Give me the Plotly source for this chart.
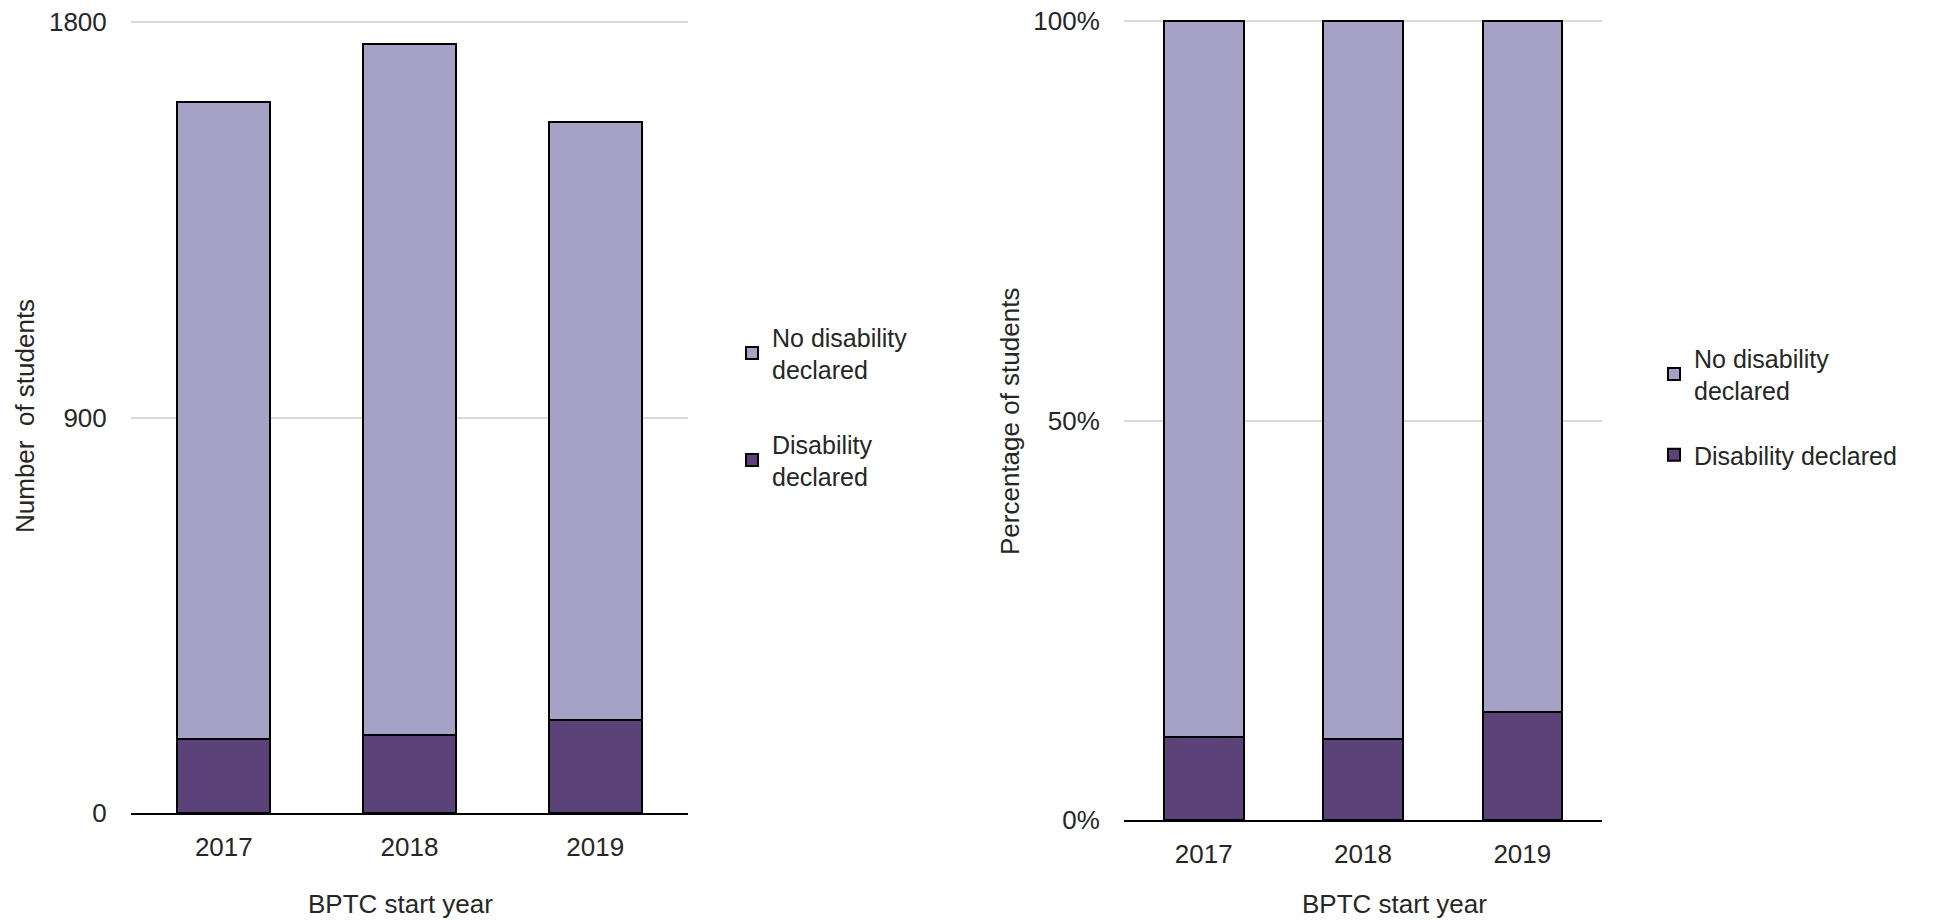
import plotly.graph_objects as go

years = ["2017", "2018", "2019"]
disability_count = [168, 177, 212]
no_disability_count = [1449, 1572, 1361]
disability_pct = [10.4, 10.1, 13.5]
no_disability_pct = [89.6, 89.9, 86.5]
count_ticks = [0, 900, 1800]
pct_ticks = [0, 50, 100]
pct_ticktext = ["0%", "50%", "100%"]

LIGHT = "#A6A2C6"
DARK = "#5B4379"
FONT = "Liberation Sans, Arial, sans-serif"
TXT = "#262626"
W, H = 1939, 920

fig = go.Figure()

# Left: counts
fig.add_trace(go.Bar(x=years, y=disability_count, name="Disability<br>declared",
                     marker=dict(color=DARK, line=dict(color="black", width=2)),
                     xaxis="x", yaxis="y", legend="legend", legendgroup="a", legendrank=2))
fig.add_trace(go.Bar(x=years, y=no_disability_count, name="No disability<br>declared",
                     marker=dict(color=LIGHT, line=dict(color="black", width=2)),
                     xaxis="x", yaxis="y", legend="legend", legendgroup="b", legendrank=1))
# Right: percentages
fig.add_trace(go.Bar(x=years, y=disability_pct, name="Disability declared",
                     marker=dict(color=DARK, line=dict(color="black", width=2)),
                     xaxis="x2", yaxis="y2", legend="legend2", legendgroup="c", legendrank=2))
fig.add_trace(go.Bar(x=years, y=no_disability_pct, name="No disability<br>declared",
                     marker=dict(color=LIGHT, line=dict(color="black", width=2)),
                     xaxis="x2", yaxis="y2", legend="legend2", legendgroup="d", legendrank=1))

axis_font = dict(family=FONT, size=26, color=TXT)

xcommon = dict(type="category", showline=True, linecolor="black", linewidth=2,
               showgrid=False, ticks="outside", ticklen=10, tickcolor="rgba(0,0,0,0)",
               tickfont=axis_font, fixedrange=True, automargin=False)
ycommon = dict(showline=False, showgrid=True, gridcolor="#D9D9D9", gridwidth=2,
               zeroline=False, ticks="outside", ticklen=18, tickcolor="rgba(0,0,0,0)",
               tickfont=axis_font, fixedrange=True, automargin=False)

# small headroom so top gridline is not clipped
ytop1 = 1806
ytop2 = 100.35
dom1_top = 813 - (813 - 22) * ytop1 / 1800
dom2_top = 820 - (820 - 21) * ytop2 / 100

fig.update_layout(
    width=W, height=H,
    margin=dict(l=0, r=0, t=0, b=0, autoexpand=False),
    paper_bgcolor="white", plot_bgcolor="white",
    barmode="stack", bargap=0.5,
    font=dict(family=FONT, color=TXT),
    xaxis=dict(domain=[131 / W, 688 / W], anchor="y", **xcommon),
    yaxis=dict(domain=[1 - 813 / H, 1 - dom1_top / H], anchor="x", range=[0, ytop1],
               tickvals=count_ticks, **ycommon),
    xaxis2=dict(domain=[1124 / W, 1602 / W], anchor="y2", **xcommon),
    yaxis2=dict(domain=[1 - 820 / H, 1 - dom2_top / H], anchor="x2", range=[0, ytop2],
                tickvals=pct_ticks, ticktext=pct_ticktext, **ycommon),
    legend=dict(x=732 / W, y=1 - 314 / H, xanchor="left", yanchor="top",
                traceorder="grouped", tracegroupgap=39,
                font=dict(family=FONT, size=25, color=TXT), bgcolor="rgba(0,0,0,0)"),
    legend2=dict(x=1654 / W, y=1 - 335 / H, xanchor="left", yanchor="top",
                 traceorder="grouped", tracegroupgap=29,
                 font=dict(family=FONT, size=25, color=TXT), bgcolor="rgba(0,0,0,0)"),
    showlegend=True,
)

title_font = dict(family=FONT, size=26, color=TXT)
annos = [
    dict(text="Number  of students", x=25 / W, y=1 - 416 / H, textangle=-90),
    dict(text="BPTC start year", x=400 / W, y=1 - 904 / H, textangle=0),
    dict(text="Percentage of students", x=1010 / W, y=1 - 422 / H, textangle=-90),
    dict(text="BPTC start year", x=1394 / W, y=1 - 904 / H, textangle=0),
]
for a in annos:
    fig.add_annotation(xref="paper", yref="paper", showarrow=False,
                       xanchor="center", yanchor="middle", font=title_font, **a)

fig.write_html("out.html", config={"displayModeBar": False},
               post_script="document.body.style.margin='0';document.body.style.overflow='hidden';")
